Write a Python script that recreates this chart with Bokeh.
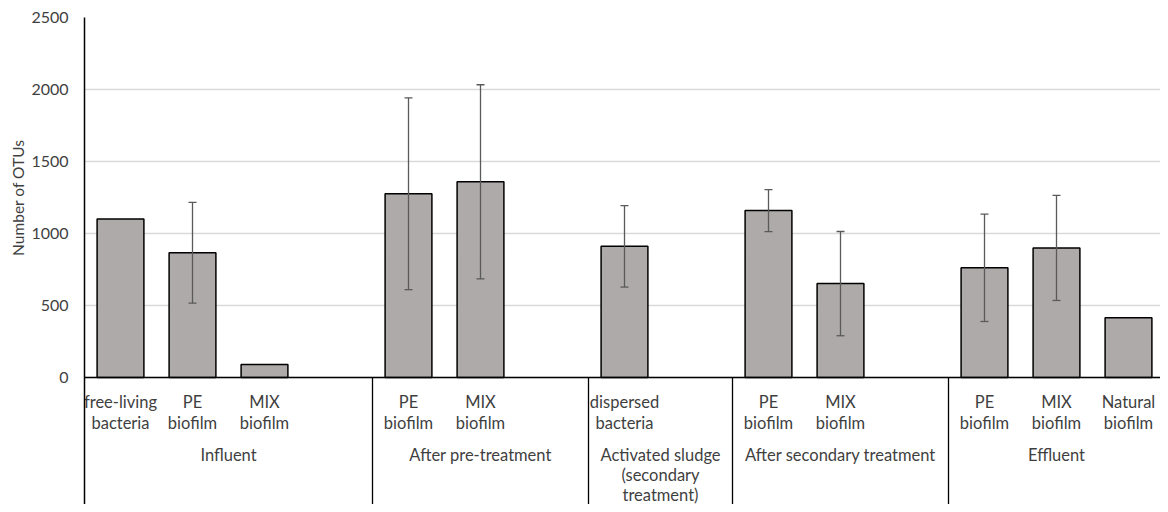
from bokeh.plotting import figure
from bokeh.models import (Range1d, FixedTicker, Whisker, TeeHead, ColumnDataSource, Span,
                          LinearAxis, Grid, Title)
from bokeh.core.properties import value
from bokeh.embed import file_html
from bokeh.resources import INLINE

# ---------------- data ----------------
groups = ["Influent", "After pre-treatment", "Activated sludge\n(secondary\ntreatment)",
          "After secondary treatment", "Effluent"]
group_slots = [4, 3, 2, 3, 3]   # category slots per group (blank slots included)
samples = ["free-living\nbacteria", "PE\nbiofilm", "MIX\nbiofilm", "",
           "PE\nbiofilm", "MIX\nbiofilm", "",
           "dispersed\nbacteria", "",
           "PE\nbiofilm", "MIX\nbiofilm", "",
           "PE\nbiofilm", "MIX\nbiofilm", "Natural\nbiofilm"]
otus = [1100, 866, 90, None,
        1276, 1359, None,
        911, None,
        1159, 652, None,
        762, 900, 415]
otus_err = [None, 350, None, None,
            666, 674, None,
            283, None,
            146, 362, None,
            373, 365, None]
y_ticks = [0, 500, 1000, 1500, 2000, 2500]
y_label = "Number of OTUs"

# ---------------- styles ----------------
FONT = "Lato"
TXT = "#3F3F3F"
BAR_FILL = "#AEAAAA"
ERR = "#5A5A5A"

# layout (pixels)
FIG_W, FIG_H = 1160, 504
LEFT, TOP = 84, 17
PLOT_PX = 360          # pixels from 0 to 2500
SLOT_PX = 72
frame_w = FIG_W - LEFT
frame_h = FIG_H - TOP
y_max = y_ticks[-1]
y_min = -y_max * (frame_h - PLOT_PX) / PLOT_PX
x_start = -0.5
x_end = x_start + frame_w / SLOT_PX

p = figure(width=FIG_W, height=FIG_H, output_backend="svg", toolbar_location=None,
           x_range=Range1d(x_start, x_end), y_range=Range1d(y_min, y_max),
           x_axis_location=None, y_axis_location=None,
           min_border_left=LEFT, min_border_right=0, min_border_top=TOP, min_border_bottom=0)
p.outline_line_color = None
p.background_fill_color = "white"
p.border_fill_color = "white"

# y axis (tick labels, full-height line)
yax = LinearAxis(ticker=FixedTicker(ticks=y_ticks))
yax.axis_line_color = "black"
yax.axis_line_width = 1.5
yax.major_tick_in = 0
yax.major_tick_out = 0
yax.minor_tick_line_color = None
yax.major_label_standoff = 16
yax.major_label_text_font = FONT
yax.major_label_text_font_size = "16px"
yax.major_label_text_color = TXT
p.add_layout(yax, "left")

# y axis title, placed beside the value range
p.add_layout(Title(text=y_label, align="right", offset=122, standoff=4,
                   text_font=FONT, text_font_size="15.5px", text_font_style="normal",
                   text_color=TXT), "left")

p.grid.visible = False
p.add_layout(Grid(dimension=1, ticker=FixedTicker(ticks=y_ticks),
                  grid_line_color="#D9D9D9", grid_line_width=1.3))

# bars
xs = list(range(len(samples)))
bx = [x for x, v in zip(xs, otus) if v is not None]
bt = [v for v in otus if v is not None]
p.vbar(x=bx, top=bt, bottom=0, width=0.65, fill_color=BAR_FILL,
       line_color="black", line_width=1.5)

# error bars
ex = [x for x, v, e in zip(xs, otus, otus_err) if e is not None]
eu = [v + e for v, e in zip(otus, otus_err) if e is not None]
el = [v - e for v, e in zip(otus, otus_err) if e is not None]
esrc = ColumnDataSource(dict(x=ex, upper=eu, lower=el))
wh = Whisker(base="x", upper="upper", lower="lower", source=esrc,
             line_color=ERR, line_width=1.3, level="annotation",
             upper_head=TeeHead(size=8, line_color=ERR, line_width=1.3),
             lower_head=TeeHead(size=8, line_color=ERR, line_width=1.3))
p.add_layout(wh)

# category axis line
p.add_layout(Span(location=0, dimension="width", line_color="black", line_width=1.5))

# group boundaries / centres
bounds = []
centres = []
acc = 0
for n in group_slots:
    centres.append(x_start + acc + n / 2)
    acc += n
    bounds.append(x_start + acc)
sep = bounds[:-1]
p.segment(x0=sep, y0=[0] * len(sep), x1=sep, y1=[y_min] * len(sep),
          line_color="black", line_width=1.3)

# sample labels
sx = [x for x, s in zip(xs, samples) if s]
st = [s for s in samples if s]
p.text(x=sx, y=[0] * len(sx), text=st, y_offset=14, text_align="center",
       text_baseline="top", text_font=value(FONT), text_font_size="16.5px",
       text_color=TXT, text_line_height=1.06)

# group labels
p.text(x=centres, y=[0] * len(centres), text=groups, y_offset=67, text_align="center",
       text_baseline="top", text_font=value(FONT), text_font_size="16.5px",
       text_color=TXT, text_line_height=1.0)

open("out.html", "w").write(file_html(p, INLINE))
